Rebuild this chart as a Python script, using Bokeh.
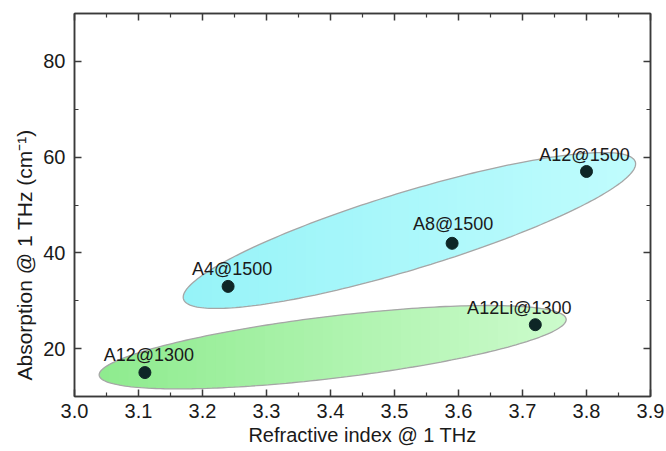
import numpy as np
from bokeh.plotting import figure
from bokeh.models import ColumnDataSource, LinearAxis, FixedTicker, Range1d, Title
from bokeh.embed import file_html
from bokeh.resources import INLINE
from bokeh.core.properties import value

# ---------------- data ----------------
samples = ["A12@1300", "A4@1500", "A8@1500", "A12@1500", "A12Li@1300"]
refr_index = [3.11, 3.24, 3.59, 3.80, 3.72]
absorption = [15, 33, 42, 57, 25]

x_ticks = [3.0, 3.1, 3.2, 3.3, 3.4, 3.5, 3.6, 3.7, 3.8, 3.9]
x_tick_labels = ["3.0", "3.1", "3.2", "3.3", "3.4", "3.5", "3.6", "3.7", "3.8", "3.9"]
x_minor = [3.05, 3.15, 3.25, 3.35, 3.45, 3.55, 3.65, 3.75, 3.85]
y_ticks = [20, 40, 60, 80]
y_tick_labels = ["20", "40", "60", "80"]
y_minor = [30, 50, 70]

x_title = "Refractive index @ 1 THz"
y_title = "Absorption @ 1 THz (cm\u207b\u00b9)"

# grouping ellipses (data units): centre, major semi-axis vector, minor semi-axis vector
group_cx = [3.4034, 3.5233]
group_cy = [20.30, 44.67]
group_major_dx = [0.3648, 0.3530]
group_major_dy = [5.87, 14.33]
group_minor_dx = [0.00578, 0.01758]
group_minor_dy = [-6.43, -7.73]
group_left_color = [(142, 235, 142), (150, 243, 248)]
group_right_color = [(204, 251, 204), (192, 252, 253)]

# label offsets (px)
label_dx = [4, 4, 1, -2, -16]
label_dy = [18, 17, 19, 16, 17]

FONT = "Liberation Sans"
TXT = "#1a1a1a"
AX = "#3a3a3a"

p = figure(width=666, height=451, output_backend="svg", toolbar_location=None,
           x_range=Range1d(3.0, 3.9), y_range=Range1d(10, 90),
           min_border_left=74, min_border_right=16, min_border_top=13, min_border_bottom=55,
           x_axis_location=None, y_axis_location=None)
p.grid.visible = False
p.outline_line_color = AX
p.outline_line_width = 1.5
p.background_fill_color = "white"
p.border_fill_color = "white"


def style_axis(ax, show_labels):
    ax.axis_line_color = AX
    ax.axis_line_width = 1.5
    ax.major_tick_in = 7
    ax.major_tick_out = 0
    ax.minor_tick_in = 4
    ax.minor_tick_out = 0
    ax.major_tick_line_color = AX
    ax.minor_tick_line_color = AX
    ax.major_tick_line_width = 1.5
    ax.minor_tick_line_width = 1.2
    ax.major_label_text_font = FONT
    ax.major_label_text_color = TXT
    if show_labels:
        ax.major_label_text_font_size = "20px"
    else:
        ax.major_label_text_font_size = "0px"
        ax.major_label_standoff = 0


xt = FixedTicker(ticks=x_ticks, minor_ticks=x_minor)
yt = FixedTicker(ticks=y_ticks, minor_ticks=y_minor)
xlab = {t: s for t, s in zip(x_ticks, x_tick_labels)}
ylab = {t: s for t, s in zip(y_ticks, y_tick_labels)}

bx = LinearAxis(ticker=xt, major_label_overrides=xlab, axis_label=x_title)
style_axis(bx, True)
bx.major_label_standoff = 7
bx.axis_label_standoff = 3
bx.axis_label_text_font = FONT
bx.axis_label_text_font_size = "20px"
bx.axis_label_text_font_style = "normal"
bx.axis_label_text_color = TXT
p.add_layout(bx, "below")
tx = LinearAxis(ticker=xt, major_label_overrides={t: "" for t in x_ticks})
style_axis(tx, False)
p.add_layout(tx, "above")

ly = LinearAxis(ticker=yt, major_label_overrides=ylab)
style_axis(ly, True)
ly.major_label_standoff = 9
p.add_layout(ly, "left")
ry = LinearAxis(ticker=yt, major_label_overrides={t: "" for t in y_ticks})
style_axis(ry, False)
p.add_layout(ry, "right")

p.add_layout(Title(text=y_title, align="left", offset=16, text_font=FONT,
                   text_font_size="21px", text_font_style="normal", text_color=TXT,
                   standoff=10), "left")


# ---------------- grouping ellipses with horizontal gradient ----------------
def ellipse_bounds(cx, cy, ax, ay, bx_, by_, xs):
    M = np.array([[ax, bx_], [ay, by_]])
    Mi = np.linalg.inv(M)
    pp, qq = Mi[0]
    rr, ss = Mi[1]
    dx = xs - cx
    A = qq ** 2 + ss ** 2
    B = 2 * (pp * qq + rr * ss) * dx
    C = (pp ** 2 + rr ** 2) * dx ** 2 - 1
    disc = np.clip(B ** 2 - 4 * A * C, 0, None)
    y1 = (-B + np.sqrt(disc)) / (2 * A)
    y2 = (-B - np.sqrt(disc)) / (2 * A)
    return cy + np.maximum(y1, y2), cy + np.minimum(y1, y2)


for g in range(len(group_cx)):
    cx, cy = group_cx[g], group_cy[g]
    ax, ay = group_major_dx[g], group_major_dy[g]
    mx, my = group_minor_dx[g], group_minor_dy[g]
    t = np.linspace(0, 2 * np.pi, 240)
    ex = cx + ax * np.cos(t) + mx * np.sin(t)
    ey = cy + ay * np.cos(t) + my * np.sin(t)
    c0 = np.array(group_left_color[g], float)
    c1 = np.array(group_right_color[g], float)
    cm = tuple(int(v) for v in (c0 + c1) / 2)
    p.patch(ex, ey, fill_color="#%02x%02x%02x" % cm, line_color=None)
    half = np.hypot(ax, mx)
    x_left, x_right = cx - half, cx + half
    n = 48
    edges = np.linspace(x_left, x_right, n + 1)
    xs_list, ys_list, cols = [], [], []
    for i in range(n):
        xa, xb = edges[i], min(edges[i + 1] + (x_right - x_left) * 0.004, x_right)
        xs = np.linspace(xa, xb, 8)
        top, bot = ellipse_bounds(cx, cy, ax, ay, mx, my, xs)
        xs_list.append(list(xs) + list(xs[::-1]))
        ys_list.append(list(top) + list(bot[::-1]))
        f = (i + 0.5) / n
        c = c0 + (c1 - c0) * f
        cols.append("#%02x%02x%02x" % tuple(int(round(v)) for v in c))
    p.patches(xs_list, ys_list, fill_color=cols, line_color=None)
    p.line(ex, ey, line_color="#a6a6a6", line_width=1.3)

# ---------------- points and labels ----------------
src = ColumnDataSource(dict(x=refr_index, y=absorption, name=samples,
                            dx=label_dx, dy=[-d for d in label_dy]))
p.scatter("x", "y", source=src, size=12, fill_color="#0e2626", line_color="#0e2626")
p.text("x", "y", text="name", source=src, x_offset="dx", y_offset="dy",
       text_align="center", text_baseline="alphabetic",
       text_font=value(FONT), text_font_size="18px", text_color=TXT)

open("out.html", "w").write(file_html(p, INLINE))
